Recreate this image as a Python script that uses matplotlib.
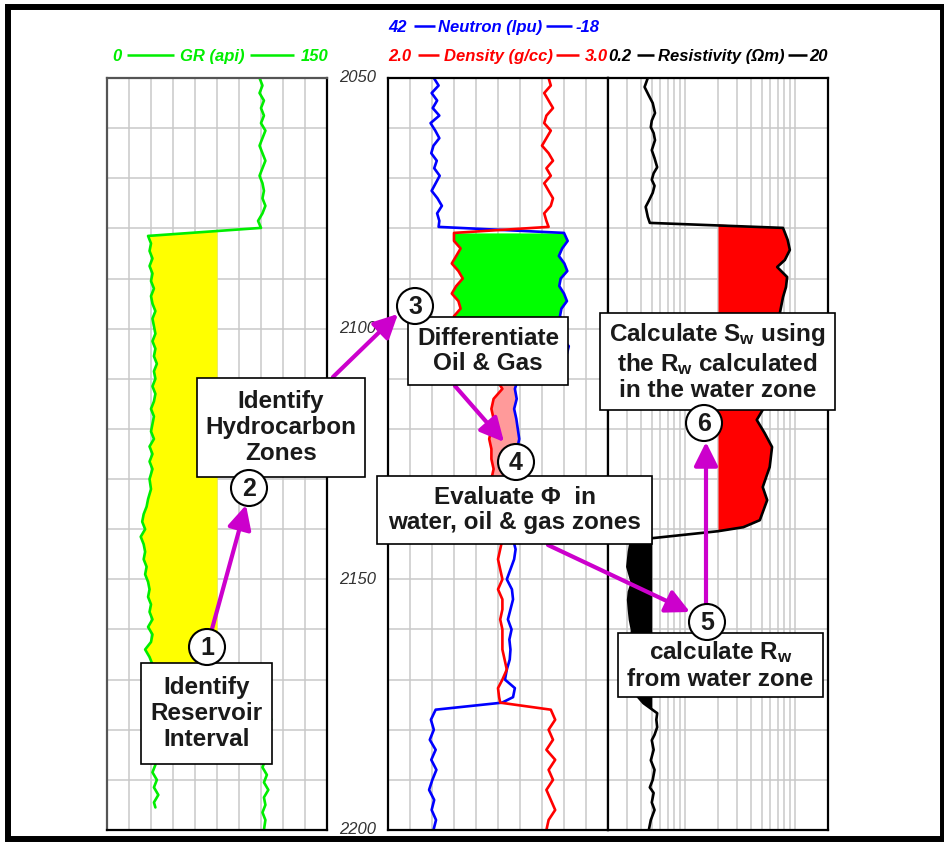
import numpy as np
import matplotlib
matplotlib.use("Agg")
import matplotlib.pyplot as plt
from matplotlib.patches import Rectangle, Circle, FancyArrowPatch
from matplotlib.ticker import LogLocator, NullFormatter

plt.rcParams['font.family'] = ['Liberation Sans', 'DejaVu Sans']
plt.rcParams['mathtext.default'] = 'regular'

# Depth axis
depth_top = 2050
depth_bottom = 2200
depth_labels = [2050, 2100, 2150, 2200]

# Gamma ray (api)
gr_scale = (0, 150)
gr_cutoff = 75
gr_depth = [2050.0, 2051.5, 2053.0, 2054.5, 2056.0, 2057.5, 2059.0, 2060.5, 2062.0, 2063.5,
            2065.0, 2066.5, 2068.0, 2069.5, 2071.0, 2072.5, 2074.0, 2075.5, 2077.0, 2078.5, 2079.9,
            2081.5, 2083.0, 2084.5, 2086.0, 2087.5, 2089.0, 2090.5, 2092.0, 2093.5, 2095.0,
            2096.5, 2098.0, 2099.5, 2101.0, 2102.5, 2104.0, 2105.5, 2107.0, 2108.5, 2110.0,
            2111.5, 2113.0, 2114.5, 2116.0, 2117.5, 2119.0, 2120.5, 2122.0, 2123.5, 2125.0,
            2126.5, 2128.0, 2130.0, 2132.0, 2134.0, 2135.5, 2137.0, 2138.5, 2140.0, 2141.5,
            2143.0, 2144.5, 2146.0, 2147.5, 2149.0, 2150.5, 2152.0, 2153.5, 2155.0, 2156.5,
            2158.0, 2159.5, 2161.0, 2162.5, 2164.0, 2165.5, 2167.0, 2168.5, 2170.0, 2172.0,
            2174.0, 2175.5,
            2176.5, 2178.0, 2180.0, 2182.0, 2184.0, 2186.0, 2187.5, 2189.0, 2190.5, 2192.0,
            2193.5, 2195.0, 2196.5, 2198.0, 2200.0]
gr = [104, 106, 104, 107, 105, 107, 105, 108, 106, 104,
      106, 108, 106, 104, 106, 107, 106, 108, 106, 103, 105,
      28, 30, 29, 31, 29, 31, 30, 32, 30, 31,
      33, 31, 32, 33, 31, 33, 32, 34, 32, 33,
      31, 33, 32, 30, 32, 31, 30, 32, 29, 31,
      29, 31, 29, 30, 28, 27, 25, 24, 26, 23,
      25, 26, 25, 27, 26, 28, 29, 28, 30, 29,
      31, 28, 31, 30, 26, 29, 31, 29, 30, 29,
      30, 30,
      110, 112, 109, 111, 108, 108, 106, 109, 107, 110,
      107, 108, 106, 108, 107]
gr_stub_depth = [2187.0, 2188.5, 2190.0, 2191.5, 2193.0, 2194.5, 2195.5]
gr_stub = [33, 31, 34, 32, 35, 32, 33]

# Neutron (pu) and density (g/cc) on a common depth list
nphi_scale = (42, -18)
rhob_scale = (2.0, 3.0)
nd_depth = [2050.0, 2051.5, 2053.0, 2054.5, 2056.0, 2057.5, 2059.0, 2060.5, 2062.0, 2063.5,
            2065.0, 2066.5, 2068.0, 2069.5, 2071.0, 2072.5, 2074.0, 2075.5, 2077.0, 2078.5, 2079.7,
            2080.9, 2082.5, 2084.0, 2085.5, 2087.0, 2088.5, 2090.0, 2091.5, 2093.0, 2094.5,
            2096.0, 2097.5, 2099.0, 2100.5, 2102.0, 2103.5, 2105.0,
            2106.0, 2108.0, 2110.0, 2112.0, 2114.0, 2116.0, 2118.0, 2120.0, 2122.0, 2124.0,
            2126.0, 2128.0, 2130.0, 2132.0, 2134.0,
            2136.0, 2138.0, 2140.0, 2142.0, 2144.0, 2146.0, 2148.0, 2150.0, 2152.0, 2154.0,
            2156.0, 2158.0, 2160.0, 2162.0, 2164.0, 2166.0, 2168.0, 2170.0, 2171.7, 2173.5, 2174.6,
            2176.0, 2178.0, 2180.0, 2182.0, 2184.0, 2186.0, 2188.0, 2190.0, 2192.0, 2194.0,
            2196.0, 2198.0, 2200.0]
nphi = [29.5, 28.2, 30.1, 28.6, 29.8, 28.0, 30.4, 29.1, 28.0, 29.6,
        30.2, 28.7, 29.4, 27.9, 29.0, 30.1, 28.5, 27.3, 28.6, 28.0, 28.2,
        -6.0, -7.0, -5.5, -4.6, -6.1, -6.9, -5.1, -4.7, -6.0, -6.8,
        -5.3, -4.9, -6.2, -6.6, -5.6, -7.3, -6.8,
        6.8, 7.2, 6.5, 7.4, 6.9, 7.6, 7.0, 6.6, 6.2, 6.8,
        7.5, 7.0, 7.8, 8.4, 8.0,
        8.2, 7.6, 8.4, 7.9, 7.2, 7.6, 8.6, 9.6, 8.2, 7.9,
        8.6, 9.3, 8.3, 8.9, 8.6, 8.8, 9.6, 10.1, 7.4, 7.9, 10.9,
        29.0, 30.3, 29.5, 30.6, 29.0, 30.2, 28.8, 29.9, 30.8, 29.4,
        30.1, 28.9, 29.6]
rhob = [2.73, 2.74, 2.71, 2.73, 2.75, 2.72, 2.71, 2.74, 2.72, 2.70,
        2.73, 2.75, 2.72, 2.74, 2.71, 2.73, 2.75, 2.74, 2.71, 2.72, 2.73,
        2.30, 2.30, 2.33, 2.31, 2.29, 2.32, 2.34, 2.31, 2.29, 2.32,
        2.33, 2.30, 2.31, 2.34, 2.31, 2.30, 2.32,
        2.50, 2.51, 2.49, 2.52, 2.48, 2.47, 2.48, 2.47, 2.46, 2.47,
        2.47, 2.48, 2.47, 2.49, 2.50,
        2.51, 2.52, 2.51, 2.52, 2.51, 2.50, 2.51, 2.52, 2.50, 2.52,
        2.52, 2.51, 2.52, 2.52, 2.52, 2.53, 2.54, 2.52, 2.50, 2.505, 2.51,
        2.74, 2.76, 2.73, 2.75, 2.72, 2.76, 2.73, 2.75, 2.72, 2.74,
        2.76, 2.73, 2.72]
gas_zone = (2080.9, 2105.0)
oil_zone = (2105.0, 2134.0)

# Resistivity (ohm.m)
res_scale = (0.2, 20)
res_pay_cutoff = 2.0
res_water_cutoff = 0.5
water_zone = (2140.0, 2177.0)
res_depth = [2050.0, 2051.8, 2053.5, 2055.0, 2057.0, 2058.5, 2059.8, 2061.0, 2062.4, 2064.4,
             2066.0, 2067.8, 2069.0, 2070.3, 2071.5, 2072.9, 2074.5, 2075.7, 2077.7, 2078.9,
             2079.9, 2082.3, 2084.3, 2086.3, 2087.7, 2089.7, 2091.7, 2093.7, 2096.9, 2100.0,
             2104.0, 2108.0, 2112.0, 2116.2, 2118.2, 2120.8, 2123.6, 2127.6, 2131.6, 2134.2,
             2138.2, 2139.6, 2140.4, 2141.8,
             2142.8, 2144.5, 2147.5, 2150.7, 2152.5, 2154.1, 2156.0, 2158.1, 2160.0, 2162.1,
             2164.0, 2166.1, 2168.0, 2170.1, 2172.7, 2174.7, 2176.7,
             2178.0, 2179.5, 2181.0, 2182.1, 2184.0, 2186.1, 2188.0, 2190.0, 2191.5, 2192.6,
             2194.5, 2196.0, 2198.0, 2200.0]
res = [0.46, 0.43, 0.47, 0.51, 0.535, 0.50, 0.49, 0.52, 0.535, 0.50,
       0.53, 0.56, 0.52, 0.50, 0.53, 0.51, 0.47, 0.44, 0.46, 0.48,
       7.8, 8.6, 9.0, 8.1, 6.9, 8.5, 8.3, 7.8, 7.3, 7.6,
       7.2, 6.6, 5.8, 5.1, 4.5, 5.3, 6.2, 5.9, 5.1, 5.6,
       4.8, 3.4, 2.0, 0.50,
       0.32, 0.31, 0.30, 0.33, 0.31, 0.305, 0.31, 0.317, 0.33, 0.33,
       0.32, 0.317, 0.33, 0.33, 0.35, 0.42, 0.56,
       0.55, 0.56, 0.53, 0.50, 0.52, 0.49, 0.53, 0.51, 0.48, 0.52,
       0.50, 0.53, 0.49, 0.47]

# Workflow annotations
box_texts = ["Identify\nReservoir\nInterval",
             "Identify\nHydrocarbon\nZones",
             "Differentiate\nOil & Gas",
             "Evaluate \u03a6  in\nwater, oil & gas zones",
             "calculate R$_w$\nfrom water zone",
             "Calculate S$_w$ using\nthe R$_w$ calculated\nin the water zone"]
step_numbers = ["1", "2", "3", "4", "5", "6"]

W, H = 945, 843
fig = plt.figure(figsize=(W / 100, H / 100), dpi=100)
fig.patch.set_facecolor('white')


def px_rect(x0, y0, x1, y1):
    return [x0 / W, 1 - y1 / H, (x1 - x0) / W, (y1 - y0) / H]


ax1 = fig.add_axes(px_rect(107, 78, 327, 830))
ax2 = fig.add_axes(px_rect(388, 78, 608, 830))
ax3 = fig.add_axes(px_rect(608, 78, 828, 830))

grid_kw = dict(color='#c9c9c9', lw=1.1)
line_kw = dict(lw=1.9, solid_joinstyle='round', solid_capstyle='round')
for ax in (ax1, ax2, ax3):
    ax.set_ylim(depth_bottom, depth_top)
    ax.set_yticks(np.arange(depth_top, depth_bottom + 1, 10))
    ax.set_axisbelow(True)
    ax.tick_params(which='both', length=0, labelleft=False, labelbottom=False)
    for sp in ax.spines.values():
        sp.set_linewidth(1.6)
        sp.set_color('black')
ax1.spines['left'].set_color('#555555')
ax1.spines['top'].set_color('#555555')

# Track 1: GR
ax1.set_xlim(*gr_scale)
ax1.set_xticks(np.linspace(gr_scale[0], gr_scale[1], 11))
ax1.grid(True, **grid_kw)
gr_arr = np.array(gr, dtype=float)
ax1.fill_betweenx(gr_depth, gr_arr, gr_cutoff, where=gr_arr < gr_cutoff,
                  interpolate=True, color='#ffff00', lw=0)
ax1.plot(gr, gr_depth, color='#00ee00', **line_kw)
ax1.plot(gr_stub, gr_stub_depth, color='#00ee00', **line_kw)

# Track 2: neutron / density (neutron shown on density scale)
ax2.set_xlim(*rhob_scale)
ax2.set_xticks(np.linspace(rhob_scale[0], rhob_scale[1], 11))
ax2.grid(True, **grid_kw)
nd_d = np.array(nd_depth)
nphi_on_rhob = rhob_scale[0] + (nphi_scale[0] - np.array(nphi)) / (nphi_scale[0] - nphi_scale[1]) * (rhob_scale[1] - rhob_scale[0])
ax2.fill_betweenx(nd_d, rhob, nphi_on_rhob, where=(nd_d >= gas_zone[0]) & (nd_d <= gas_zone[1]),
                  color='#00ff00', lw=0)
ax2.fill_betweenx(nd_d, rhob, nphi_on_rhob, where=(nd_d >= oil_zone[0]) & (nd_d <= oil_zone[1]),
                  color='#ff9a9a', lw=0)
ax2.plot(nphi_on_rhob, nd_d, color='#0000ff', **line_kw)
ax2.plot(rhob, nd_d, color='#ff0000', **line_kw)

# Track 3: resistivity
ax3.set_xscale('log')
ax3.set_xlim(*res_scale)
ax3.xaxis.set_major_locator(LogLocator(base=10))
ax3.xaxis.set_minor_locator(LogLocator(base=10, subs=np.arange(1, 10)))
ax3.xaxis.set_minor_formatter(NullFormatter())
ax3.grid(True, which='both', axis='x', **grid_kw)
ax3.grid(True, which='major', axis='y', **grid_kw)
res_d = np.array(res_depth)
res_arr = np.array(res)
ax3.fill_betweenx(res_d, res_arr, res_pay_cutoff, where=res_arr >= res_pay_cutoff,
                  interpolate=True, color='#ff0000', lw=0)
ax3.fill_betweenx(res_d, res_arr, res_water_cutoff,
                  where=(res_arr <= res_water_cutoff) & (res_d > water_zone[0]) & (res_d < water_zone[1]),
                  interpolate=True, color='black', lw=0)
ax3.plot(res, res_depth, color='black', **line_kw)

# depth labels between track 1 and 2
for d in depth_labels:
    ax1.text(1.141, d, str(d), transform=ax1.get_yaxis_transform(), ha='center', va='center',
             fontsize=12, style='italic', color='#333333')

# overlay in pixel coordinates for headers and workflow notes
ov = fig.add_axes([0, 0, 1, 1], zorder=10)
ov.set_xlim(0, W)
ov.set_ylim(H, 0)
ov.axis('off')
ov.patch.set_alpha(0)

hdr_kw = dict(fontsize=12, fontweight='bold', style='italic', va='baseline')


def header(y, left, name, right, color, x0, l1, name_x, l2, x1):
    ov.text(x0, y + 6, left, ha='left', color=color, **hdr_kw)
    ov.text(name_x, y + 6, name, ha='center', color=color, **hdr_kw)
    ov.text(x1, y + 6, right, ha='right', color=color, **hdr_kw)
    ov.plot(l1, [y, y], color=color, lw=1.8, solid_capstyle='butt')
    ov.plot(l2, [y, y], color=color, lw=1.8, solid_capstyle='butt')


header(55, "0", "GR (api)", "150", '#00ee00', 112, [127, 174], 212, [250, 294], 328)
header(26, "42", "Neutron (lpu)", "-18", '#0000ff', 388, [414, 435], 490, [546, 572], 600)
header(55, "2.0", "Density (g/cc)", "3.0", '#ff0000', 388, [418, 439], 498, [556, 579], 608)
header(55, "0.2", "Resistivity (\u03a9m)", "20", 'black', 608, [637, 654], 721, [788, 807], 828)

box_rects = [(141, 663, 272, 764), (197, 378, 365, 477), (408, 317, 568, 385),
             (377, 476, 652, 544), (618, 633, 823, 697), (600, 313, 835, 410)]
circle_xy = [(207, 647), (249, 488), (415, 306), (516, 462), (707, 622), (704, 423)]
arrow_xy = [((212, 629), (246, 505)), ((333, 377), (398, 314)), ((455, 386), (504, 442)),
            ((548, 545), (690, 612)), ((706, 604), (706, 442))]

for (a, b) in arrow_xy:
    ov.add_patch(FancyArrowPatch(a, b, arrowstyle='-|>,head_length=0.72,head_width=0.36',
                                 mutation_scale=20, lw=3, color='#cc00cc',
                                 shrinkA=0, shrinkB=0, zorder=1))

for txt, (x0, y0, x1, y1) in zip(box_texts, box_rects):
    ov.add_patch(Rectangle((x0, y0), x1 - x0, y1 - y0, facecolor='white',
                           edgecolor='black', lw=1.2, zorder=2))
    ov.text((x0 + x1) / 2, (y0 + y1) / 2, txt, ha='center', va='center', fontsize=17.5,
            fontweight='bold', color='#1a1a1a', linespacing=1.15, zorder=4)

for num, (cx, cy) in zip(step_numbers, circle_xy):
    ov.add_patch(Circle((cx, cy), 18, facecolor='white', edgecolor='black', lw=1.5, zorder=3))
    ov.text(cx, cy + 1, num, ha='center', va='center', fontsize=18, fontweight='bold',
            color='#1a1a1a', zorder=4)

# outer frame
ov.add_patch(Rectangle((8, 7), 935, 832, facecolor='none', edgecolor='black', lw=4.3, zorder=5))

fig.savefig("out.png", dpi=100)
